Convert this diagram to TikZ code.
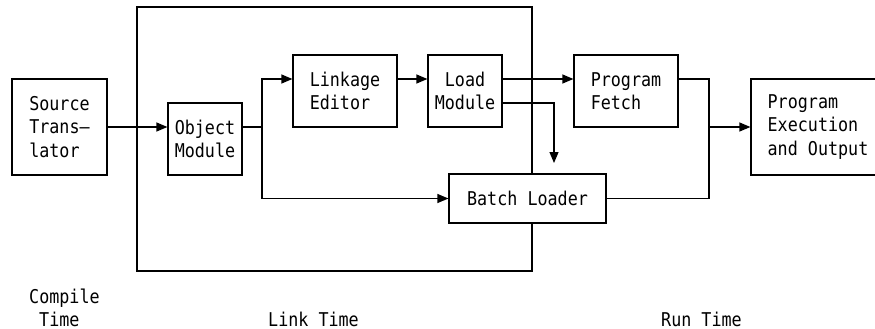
\documentclass[tikz,border=0pt]{standalone}
\usepackage{fontspec}
\usetikzlibrary{arrows.meta}
\newfontfamily\diagfont[FakeStretch=0.88]{DejaVu Sans Mono}
\begin{document}
\begin{tikzpicture}[x=1pt,y=-1pt,
  every node/.style={font=\diagfont\fontsize{19}{23.5}\selectfont, inner sep=0pt},
  stagebox/.style={draw, line width=1.2pt, fill=white, align=left},
  link/.style={line width=1.2pt},
  arr/.style={line width=1.2pt, -{Triangle[length=11pt,width=9pt]}},
  lbl/.style={anchor=base west}
]
\useasboundingbox (0,0) rectangle (875,329);

% link-time frame
\draw[link] (137,7) rectangle (532,271);

% stages
\node[stagebox, minimum width=95pt, minimum height=96pt] (src) at (59.5,127) {Source\\Trans–\\lator};
\node[stagebox, minimum width=74pt, minimum height=72pt] (obj) at (205,139) {Object\\Module};
\node[stagebox, minimum width=104pt, minimum height=72pt] (lnk) at (345,91) {Linkage\\Editor};
\node[stagebox, minimum width=74pt, minimum height=72pt, align=center] (load) at (465,91) {Load\\Module};
\node[stagebox, minimum width=104pt, minimum height=72pt] (fetch) at (626,91) {Program\\Fetch};
\node[stagebox, minimum width=134pt, minimum height=96pt] (exec) at (818,127) {Program\\Execution\\and Output};
\node[stagebox, minimum width=157pt, minimum height=49pt] (batch) at (527.5,198.5) {Batch Loader};

% junction points
\coordinate (j1) at (262,127);
\coordinate (j2) at (554,163);
\coordinate (j3) at (709,127);

% connectors
\draw[arr] (src.east) -- (src.east -| obj.west);
\draw[link] (src.east -| obj.east) -- (j1);
\draw[arr] (j1) |- ([yshift=12pt]lnk.west);
\draw[arr] (j1) |- (batch.west);
\draw[arr] ([yshift=12pt]lnk.east) -- ([yshift=12pt]load.west);
\draw[arr] ([yshift=12pt]load.east) -- ([yshift=12pt]fetch.west);
\draw[arr] ([yshift=-12pt]load.east) -| (j2);
\draw[link] ([yshift=12pt]fetch.east) -| (j3) |- (batch.east);
\draw[arr] (j3) -- (exec.west);

% phase labels
\node[lbl] (compile) at (29,303) {Compile};
\node[lbl] (ctime) at (39,326) {Time};
\node[lbl] (linktime) at (268,326) {Link Time};
\node[lbl] (runtime) at (661,326) {Run Time};
\end{tikzpicture}
\end{document}
